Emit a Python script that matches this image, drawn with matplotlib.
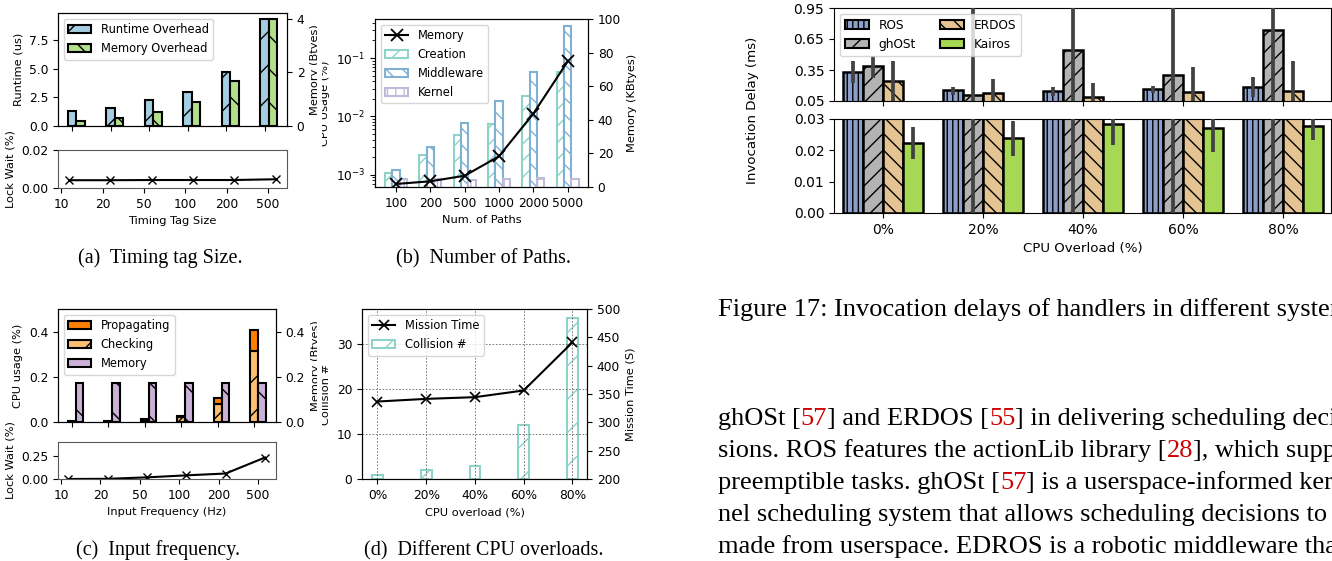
import numpy as np
import matplotlib.pyplot as plt
from matplotlib.transforms import Bbox, TransformedBbox
from matplotlib.patches import Patch

# ---- data ----
tag_sizes = ['10', '20', '50', '100', '200', '500']
runtime_us = [1.34, 1.55, 2.28, 3.0, 4.67, 9.36]
memory_bytes = [0.2, 0.29, 0.51, 0.88, 1.68, 4.0]
lockwait_tag = [0.0041, 0.0041, 0.0042, 0.0042, 0.0042, 0.0046]

paths = ['100', '200', '500', '1000', '2000', '5000']
cpu_creation = [1.07e-3, 2.2e-3, 4.85e-3, 7.4e-3, 0.022, 0.0568]
cpu_middleware = [1.22e-3, 2.98e-3, 7.69e-3, 0.0181, 0.0568, 0.358]
cpu_kernel = [8.4e-4, 8.3e-4, 8.2e-4, 8.3e-4, 8.9e-4, 8.4e-4]
memory_kb = [1.8, 3.4, 6.7, 18.3, 43.7, 74.8]

freqs = ['10', '20', '50', '100', '200', '500']
cpu_checking = [0.002, 0.002, 0.009, 0.024, 0.079, 0.315]
cpu_propagating = [0.002, 0.002, 0.005, 0.004, 0.029, 0.094]
memory_freq = [0.174, 0.174, 0.174, 0.174, 0.174, 0.174]
lockwait_freq = [0.0, 0.002, 0.018, 0.04, 0.06, 0.235]

overloads = ['0%', '20%', '40%', '60%', '80%']
collisions = [1, 2, 3, 12, 36]
mission_time = [336.7, 341.4, 344.4, 356.2, 441.0]

systems = ['ROS', 'ghOSt', 'ERDOS', 'Kairos']
ros_delay = [0.335, 0.154, 0.15, 0.17, 0.189]
ros_lo = [0.22, 0.108, 0.10, 0.124, 0.092]
ros_hi = [0.438, 0.183, 0.183, 0.20, 0.28]
ghost_delay = [0.39, 0.108, 0.548, 0.306, 0.733]
ghost_lo = [0.27, -0.3, -0.3, -0.3, -0.3]
ghost_hi = [0.49, 1.3, 1.3, 1.3, 1.3]
erdos_delay = [0.244, 0.128, 0.092, 0.134, 0.147]
erdos_lo = [0.04, 0.04, 0.04, 0.04, 0.04]
erdos_hi = [0.438, 0.264, 0.22, 0.383, 0.438]
kairos_delay = [0.0223, 0.0239, 0.0285, 0.0271, 0.0277]
kairos_lo = [0.0172, 0.0181, 0.0216, 0.0194, 0.0232]
kairos_hi = [0.0273, 0.0295, 0.031, 0.031, 0.032]

W, H = 1332, 561
plt.rcParams['font.size'] = 8.8
plt.rcParams['axes.labelsize'] = 8.2
plt.rcParams['legend.fontsize'] = 8.3
fig = plt.figure(figsize=(W / 100, H / 100), dpi=100)


def px_axes(x0, y0, x1, y1):
    return fig.add_axes([x0 / W, 1 - y1 / H, (x1 - x0) / W, (y1 - y0) / H])


def clip_x(txt, x0, x1):
    bb = TransformedBbox(Bbox.from_extents(x0 / W, 0, x1 / W, 1), fig.transFigure)
    txt.set_clip_box(bb)
    txt.set_clip_on(True)


def gray_spines(ax):
    for s in ax.spines.values():
        s.set_edgecolor('0.35')


# ---- (a) timing tag size ----
axA = px_axes(58, 13, 287, 126)
xa = np.arange(len(tag_sizes))
bw = 0.22
b1 = axA.bar(xa, runtime_us, bw, color='#a6cee3', edgecolor='black', hatch='/', lw=1.5,
             label='Runtime Overhead')
axA2 = axA.twinx()
b2 = axA2.bar(xa + bw, memory_bytes, bw, color='#b2df8a', edgecolor='black', hatch='\\', lw=1.5,
              label='Memory Overhead')
axA.set_xlim(-0.37, 5.58)
axA.set_ylim(0, 9.86)
axA2.set_ylim(0, 4.21)
axA.set_xticks(xa)
axA.tick_params(axis='x', labelbottom=False)
axA.set_yticks([0, 2.5, 5, 7.5])
axA2.set_yticks([0, 2, 4])
axA.set_ylabel('Runtime (us)')
axA2.set_ylabel('Memory (Btyes)')
clip_x(axA2.yaxis.label, 0, 317)
axA2.legend(handles=[b1, b2], loc='upper left')

axAl = px_axes(58, 150, 287, 188)
axAl.plot(xa + 0.185, lockwait_tag, color='black', marker='x', ms=6, lw=1.5)
axAl.set_xlim(-0.08, 5.46)
axAl.set_ylim(0, 0.02)
axAl.set_yticks([0, 0.02])
axAl.set_xticks(xa)
axAl.set_xticklabels(tag_sizes)
axAl.set_xlabel('Timing Tag Size')
axAl.set_ylabel('Lock Wait (%)')
gray_spines(axAl)

# ---- (b) number of paths ----
axB = px_axes(375, 19, 588, 187)
xb = np.arange(len(paths))
bw = 0.215
axB.set_yscale('log')
c1 = axB.bar(xb - bw, cpu_creation, bw, facecolor='white', edgecolor='#8dd3c7', hatch='//', lw=1.5,
             label='Creation')
c2 = axB.bar(xb, cpu_middleware, bw, facecolor='white', edgecolor='#80b1d3', hatch='\\\\', lw=1.5,
             label='Middleware')
c3 = axB.bar(xb + bw, cpu_kernel, bw, facecolor='white', edgecolor='#bebada', hatch='++', lw=1.5,
             label='Kernel')
axB.set_ylim(6.15e-4, 0.467)
axB.set_xlim(-0.61, 5.59)
axB.set_xticks(xb)
axB.set_xticklabels(paths)
axB.set_xlabel('Num. of Paths')
axB.set_ylabel('CPU Usage (%)')
clip_x(axB.yaxis.label, 322, W)
axB2 = axB.twinx()
m1, = axB2.plot(xb, memory_kb, color='black', marker='x', ms=8, mew=1.3, lw=1.5, label='Memory')
axB2.set_ylim(0, 100)
axB2.set_yticks([0, 20, 40, 60, 80, 100])
axB2.set_ylabel('Memory (KBtyes)')
axB2.legend(handles=[m1, c1, c2, c3], loc='upper left')

# ---- (c) input frequency ----
axC = px_axes(58, 309, 276, 422)
xc = np.arange(len(freqs))
bw = 0.21
d1 = axC.bar(xc, cpu_checking, bw, color='#fdbf6f', edgecolor='black', hatch='/', lw=1.5,
             label='Checking')
d2 = axC.bar(xc, cpu_propagating, bw, bottom=cpu_checking, color='#ff7f00', edgecolor='black', lw=1.5,
             label='Propagating')
axC2 = axC.twinx()
d3 = axC2.bar(xc + bw, memory_freq, bw, color='#cab2d6', edgecolor='black', hatch='\\', lw=1.5,
              label='Memory')
axC.set_xlim(-0.375, 5.594)
axC.set_ylim(0, 0.5)
axC2.set_ylim(0, 0.5)
axC.set_yticks([0, 0.2, 0.4])
axC2.set_yticks([0, 0.2, 0.4])
axC.set_xticks(xc)
axC.tick_params(axis='x', labelbottom=False)
axC.set_ylabel('CPU usage (%)')
axC2.set_ylabel('Memory (Btyes)')
clip_x(axC2.yaxis.label, 0, 317)
axC2.legend(handles=[d2, d1, d3], loc='upper left')

axCl = px_axes(58, 442, 276, 479)
axCl.plot(xc + 0.18, lockwait_freq, color='black', marker='x', ms=6, lw=1.5)
axCl.set_xlim(-0.08, 5.46)
axCl.set_ylim(0, 0.405)
axCl.set_yticks([0, 0.25])
axCl.set_xticks(xc)
axCl.set_xticklabels(freqs)
axCl.set_xlabel('Input Frequency (Hz)')
axCl.set_ylabel('Lock Wait (%)')
gray_spines(axCl)

# ---- (d) CPU overloads ----
axD = px_axes(362, 309, 587, 479)
xd = np.arange(len(overloads))
e1 = axD.bar(xd, collisions, 0.22, facecolor='white', edgecolor='#8dd3c7', hatch='/', lw=1.5,
             label='Collision #')
axD.grid(True, ls=(0, (2, 2)), lw=0.6, color='0.4')
axD.set_xlim(-0.316, 4.30)
axD.set_ylim(0, 37.9)
axD.set_yticks([0, 10, 20, 30])
axD.set_xticks(xd)
axD.set_xticklabels(overloads)
axD.set_xlabel('CPU overload (%)')
axD.set_ylabel('Collision #')
clip_x(axD.yaxis.label, 322, W)
axD2 = axD.twinx()
e2, = axD2.plot(xd, mission_time, color='black', marker='x', ms=7, mew=1.2, lw=1.5, label='Mission Time')
axD2.set_ylim(200, 500)
axD2.set_yticks(range(200, 501, 50))
axD2.set_ylabel('Mission Time (S)')
axD2.legend(handles=[e2, e1], loc='upper left')

# ---- Figure 17: broken-axis invocation delay ----
fT = px_axes(834, 8, 1331, 101)
fB = px_axes(834, 119, 1331, 213)
xf = np.arange(len(overloads))
offs = [-0.3, -0.1, 0.1, 0.3]
colors = ['#8da0cb', '#b3b3b3', '#e5c494', '#a6d854']
hatches = ['|||', '//', '\\\\', '']
means = [ros_delay, ghost_delay, erdos_delay, kairos_delay]
lows = [ros_lo, ghost_lo, erdos_lo, kairos_lo]
highs = [ros_hi, ghost_hi, erdos_hi, kairos_hi]
for ax in (fT, fB):
    for j in range(4):
        ax.bar(xf + offs[j], means[j], 0.2, color=colors[j], edgecolor='black', lw=1.8, hatch=hatches[j])
        ax.vlines(xf + offs[j], lows[j], highs[j], color='0.26', lw=2.7, zorder=3)
    ax.set_xlim(-0.49, 4.48)
    ax.set_xticks(xf)
    ax.tick_params(labelsize=10)
fT.set_ylim(0.05, 0.95)
fT.set_yticks([0.05, 0.35, 0.65, 0.95])
fT.tick_params(axis='x', labelbottom=False)
fB.set_ylim(0, 0.03)
fB.set_yticks([0, 0.01, 0.02, 0.03])
fB.set_xticklabels(overloads)
fB.set_xlabel('CPU Overload (%)', fontsize=9.6)
handles = [Patch(facecolor=colors[j], edgecolor='black', hatch=hatches[j], lw=1.5, label=systems[j])
           for j in range(4)]
fT.legend(handles=handles, ncol=2, loc='upper left', fontsize=8.7)
fig.text(752 / W, 1 - 110 / H, 'Invocation Delay (ms)', rotation=90, ha='center', va='center',
         fontsize=9.6)

# ---- paper text ----
serif = 'Liberation Serif'
red = '#cc0000'
fig.text(160 / W, 1 - 263 / H, '(a)  Timing tag Size.', ha='center', va='baseline', fontsize=14.5, family=serif)
fig.text(483 / W, 1 - 263 / H, '(b)  Number of Paths.', ha='center', va='baseline', fontsize=14.5, family=serif)
fig.text(158 / W, 1 - 555 / H, '(c)  Input frequency.', ha='center', va='baseline', fontsize=14.5, family=serif)
fig.text(484 / W, 1 - 555 / H, '(d)  Different CPU overloads.', ha='center', va='baseline', fontsize=14.5,
         family=serif)

renderer = fig.canvas.get_renderer()


def rich_line(x, y, parts, size=19):
    for s, c in parts:
        t = fig.text(x / W, 1 - y / H, s, color=c, fontsize=size, family=serif, va='baseline', ha='left')
        x += t.get_window_extent(renderer).width


rich_line(718, 316, [('Figure 17: Invocation delays of handlers in different systems.', 'black')])
rich_line(718, 425, [('ghOSt [', 'black'), ('57', red), ('] and ERDOS [', 'black'), ('55', red),
                     ('] in delivering scheduling deci-', 'black')])
rich_line(718, 457, [('sions. ROS features the actionLib library [', 'black'), ('28', red),
                     ('], which supports', 'black')])
rich_line(718, 489, [('preemptible tasks. ghOSt [', 'black'), ('57', red),
                     ('] is a userspace-informed ker-', 'black')])
rich_line(718, 521, [('nel scheduling system that allows scheduling decisions to be', 'black')])
rich_line(718, 553, [('made from userspace. EDROS is a robotic middleware that', 'black')])

fig.savefig('out.png', dpi=100)
